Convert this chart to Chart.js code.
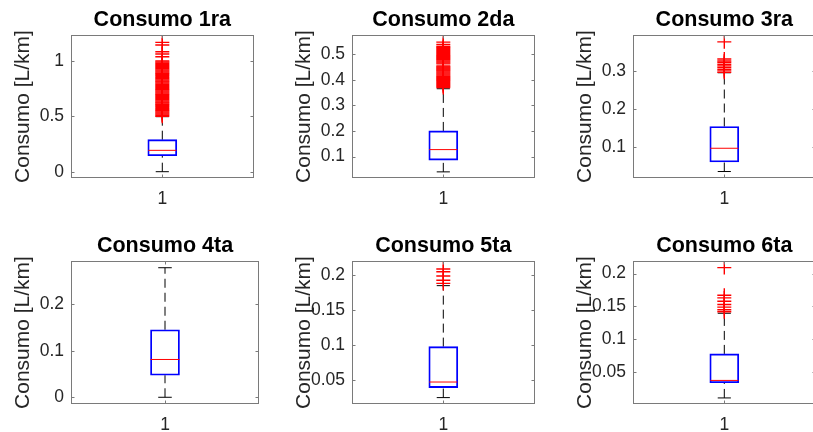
<!DOCTYPE html>
<html>
<head>
<meta charset="utf-8">
<script src="https://cdn.jsdelivr.net/npm/chart.js"></script>
<style>
  body { margin: 0; background: #fff; overflow: hidden; }
  #wrap { position: relative; width: 813px; height: 432px; overflow: hidden; }
  canvas { position: absolute; }
</style>
</head>
<body>
<div id="wrap"></div>
<script>
const titles = ['Consumo 1ra', 'Consumo 2da', 'Consumo 3ra', 'Consumo 4ta', 'Consumo 5ta', 'Consumo 6ta'];
const yLabel = 'Consumo [L/km]';
const xTickLabels = ['1'];

const lowerWhisker = [0, 0.04, 0.037, 0, 0.0254, 0.0112];
const q1 = [0.1445, 0.086, 0.062, 0.0475, 0.0396, 0.0342];
const medians = [0.193, 0.127, 0.098, 0.0814, 0.0476, 0.0378];
const q3 = [0.289, 0.2, 0.155, 0.1454, 0.098, 0.078];
const upperWhisker = [0.497, 0.365, 0.296, 0.279, 0.1848, 0.1397];

const outliers1 = [1.168, 1.144, 1.084, 1.063, 1.039,
  1.00, 0.99, 0.98, 0.97, 0.96, 0.95, 0.94, 0.93, 0.92, 0.91, 0.90, 0.89, 0.88, 0.87, 0.86, 0.85, 0.84,
  0.83, 0.82, 0.81, 0.80, 0.79, 0.78, 0.77, 0.76, 0.75, 0.74, 0.73, 0.72, 0.71, 0.70, 0.69, 0.68, 0.67,
  0.66, 0.65, 0.64, 0.63, 0.62, 0.61, 0.60, 0.59, 0.58, 0.57, 0.56, 0.55, 0.54, 0.53, 0.52, 0.51, 0.50];
const outliers2 = [0.547, 0.538,
  0.530, 0.526, 0.522, 0.518, 0.514, 0.510, 0.506, 0.502, 0.498, 0.494, 0.490, 0.486, 0.482, 0.478,
  0.474, 0.470, 0.466, 0.462, 0.454, 0.450, 0.446, 0.442, 0.438, 0.434, 0.430, 0.426, 0.422, 0.418,
  0.414, 0.410, 0.406, 0.402, 0.398, 0.394, 0.390, 0.386, 0.382, 0.378, 0.374, 0.370];
const outliers3 = [0.377, 0.332, 0.327, 0.323, 0.318, 0.314, 0.310, 0.305, 0.301, 0.297];
const outliers4 = [];
const outliers5 = [0.2085, 0.2045, 0.1985, 0.1925, 0.188];
const outliers6 = [0.209, 0.167, 0.163, 0.158, 0.153, 0.149, 0.145, 0.142];
const outliers = [outliers1, outliers2, outliers3, outliers4, outliers5, outliers6];

const yMin = [-0.057, 0.016, 0.020, -0.0145, 0.0163, 0.002];
const yMax = [1.235, 0.575, 0.395, 0.2935, 0.2199, 0.219];
const yTicks = [
  [0, 0.5, 1],
  [0.1, 0.2, 0.3, 0.4, 0.5],
  [0.1, 0.2, 0.3],
  [0, 0.1, 0.2],
  [0.05, 0.1, 0.15, 0.2],
  [0.05, 0.1, 0.15, 0.2]
];

// layout / style
const FONT = "'Liberation Sans', Arial, sans-serif";
const colLeft = [0, 281, 562];
const rowTop = [0, 226];
const AXIS_W = 71, TITLE_H = 35, PLOT_W = 188, PLOT_H = 143, XAXIS_H = 28, PAD_R = 3;
const boxPx = 29;
const boxHalf = 0.077;
const capHalf = 0.036;

// box + inward ticks like MATLAB
const matlabAxes = {
  id: 'matlabAxes',
  afterDraw(chart) {
    const {ctx, chartArea: a, scales: {x, y}} = chart;
    const L = Math.round(a.left) + 0.5, R = Math.round(a.right) - 0.5;
    const T = Math.round(a.top) + 0.5, B = Math.round(a.bottom) - 0.5;
    ctx.save();
    ctx.strokeStyle = '#7a7a7a';
    ctx.lineWidth = 1;
    ctx.strokeRect(L, T, R - L, B - T);
    ctx.beginPath();
    y.ticks.forEach(t => {
      const py = Math.round(y.getPixelForValue(t.value)) + 0.5;
      ctx.moveTo(L, py); ctx.lineTo(L + 3, py);
      ctx.moveTo(R, py); ctx.lineTo(R - 3, py);
    });
    x.ticks.forEach(t => {
      const px = Math.round(x.getPixelForValue(t.value)) + 0.5;
      ctx.moveTo(px, B); ctx.lineTo(px, B - 3);
      ctx.moveTo(px, T); ctx.lineTo(px, T + 3);
    });
    ctx.stroke();
    ctx.restore();
  }
};

const wrap = document.getElementById('wrap');

titles.forEach((title, i) => {
  const cv = document.createElement('canvas');
  const w = AXIS_W + PLOT_W + PAD_R, h = TITLE_H + PLOT_H + XAXIS_H;
  cv.width = w; cv.height = h;
  cv.style.left = colLeft[i % 3] + 'px';
  cv.style.top = rowTop[Math.floor(i / 3)] + 'px';
  cv.style.width = w + 'px'; cv.style.height = h + 'px';
  wrap.appendChild(cv);

  new Chart(cv, {
    type: 'bar',
    data: {
      datasets: [
        {
          type: 'scatter',
          data: outliers[i].map(v => ({x: 1, y: v})),
          pointStyle: 'cross',
          pointRadius: 7,
          borderColor: '#ff0000',
          borderWidth: 1.4,
          order: 0
        },
        {
          type: 'line',
          data: [{x: 1 - boxHalf, y: medians[i]}, {x: 1 + boxHalf, y: medians[i]}],
          borderColor: '#ff0000',
          borderWidth: 1,
          pointRadius: 0,
          order: 1
        },
        {
          type: 'bar',
          data: [{x: 1, y: [q1[i], q3[i]]}],
          backgroundColor: 'rgba(0,0,0,0)',
          borderColor: '#0000ff',
          borderWidth: 1.2,
          borderSkipped: false,
          barThickness: boxPx,
          order: 2
        },
        {
          type: 'line',
          data: [{x: 1, y: q3[i]}, {x: 1, y: upperWhisker[i]}],
          borderColor: '#000',
          borderWidth: 1,
          borderDash: [9, 5],
          pointRadius: 0,
          order: 3
        },
        {
          type: 'line',
          data: [{x: 1, y: lowerWhisker[i]}, {x: 1, y: q1[i]}],
          borderColor: '#000',
          borderWidth: 1,
          borderDash: [9, 5],
          pointRadius: 0,
          order: 3
        },
        {
          type: 'line',
          data: [{x: 1 - capHalf, y: upperWhisker[i]}, {x: 1 + capHalf, y: upperWhisker[i]}],
          borderColor: '#000',
          borderWidth: 1,
          pointRadius: 0,
          order: 3
        },
        {
          type: 'line',
          data: [{x: 1 - capHalf, y: lowerWhisker[i]}, {x: 1 + capHalf, y: lowerWhisker[i]}],
          borderColor: '#000',
          borderWidth: 1,
          pointRadius: 0,
          order: 3
        }
      ]
    },
    options: {
      responsive: false,
      animation: false,
      events: [],
      devicePixelRatio: 1,
      layout: {padding: {right: PAD_R}},
      plugins: {
        legend: {display: false},
        tooltip: {enabled: false},
        title: {
          display: true,
          text: title,
          fullSize: false,
          color: '#000',
          font: {family: FONT, size: 21.5, weight: 'bold'},
          padding: {top: 7.5, bottom: 1.7}
        }
      },
      scales: {
        x: {
          type: 'linear',
          min: 0.5,
          max: 1.5,
          offset: false,
          grid: {display: false, drawTicks: false},
          border: {display: false},
          afterBuildTicks: s => { s.ticks = xTickLabels.map(t => ({value: Number(t)})); },
          afterFit: s => { s.height = XAXIS_H; },
          ticks: {
            padding: 11,
            color: '#262626',
            font: {family: FONT, size: 17.5},
            callback: (v) => String(v)
          }
        },
        y: {
          type: 'linear',
          min: yMin[i],
          max: yMax[i],
          grid: {display: false, drawTicks: false},
          border: {display: false},
          afterBuildTicks: s => { s.ticks = yTicks[i].map(v => ({value: v})); },
          afterFit: s => { s.width = AXIS_W; },
          ticks: {
            padding: 7,
            color: '#262626',
            font: {family: FONT, size: 17.5},
            callback: (v) => String(v)
          },
          title: {
            display: true,
            text: yLabel,
            color: '#262626',
            font: {family: FONT, size: 21},
            padding: {top: 11, bottom: 0}
          }
        }
      }
    },
    plugins: [matlabAxes]
  });
});
</script>
</body>
</html>
